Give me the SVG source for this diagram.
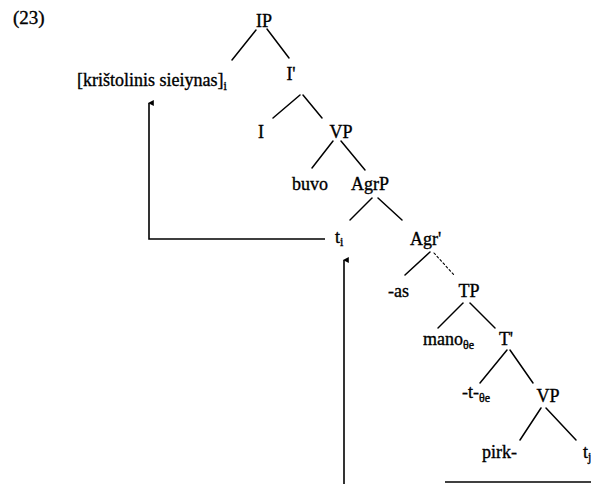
<svg xmlns="http://www.w3.org/2000/svg" width="591" height="484" viewBox="0 0 591 484">
  <style>
    text { font-family: "Liberation Serif", "Times New Roman", serif; font-size: 18px; fill: #000; stroke: #000; stroke-width: 0.35; }
    .num { font-size: 19px; }
    .c { text-anchor: middle; }
    .sub { font-size: 12px; }
    .edge { stroke: #000; stroke-width: 1.5; fill: none; stroke-linecap: round; }
    .dot { stroke-dasharray: 2 2.5; stroke-width: 1.1; }
    .move { stroke: #000; stroke-width: 1.6; fill: none; }
  </style>
  <defs>
    <marker id="head" viewBox="0 0 10 10" refX="5" refY="2" markerWidth="6" markerHeight="6" orient="auto-start-reverse" markerUnits="userSpaceOnUse">
      <path d="M0,10 L5,0 L10,10 Z" fill="#000"/>
    </marker>
  </defs>

  <text class="num" x="13" y="24">(23)</text>

  <!-- tree branches -->
  <g id="branches">
    <line class="edge" x1="256" y1="30" x2="232" y2="60"/>
    <line class="edge" x1="267" y1="29" x2="289" y2="58"/>
    <line class="edge" x1="300" y1="95" x2="273" y2="118"/>
    <line class="edge" x1="303" y1="95" x2="322" y2="118"/>
    <line class="edge" x1="333" y1="141" x2="312" y2="168"/>
    <line class="edge" x1="341" y1="141" x2="365" y2="170"/>
    <line class="edge" x1="372" y1="198" x2="350" y2="220"/>
    <line class="edge" x1="378" y1="198" x2="402" y2="220"/>
    <line class="edge" x1="430" y1="252" x2="405" y2="275"/>
    <line class="edge dot" x1="434" y1="253" x2="454" y2="275"/>
    <line class="edge" x1="463" y1="303" x2="438" y2="328"/>
    <line class="edge" x1="470" y1="303" x2="495" y2="328"/>
    <line class="edge" x1="507" y1="350" x2="480" y2="383"/>
    <line class="edge" x1="510" y1="350" x2="533" y2="383"/>
    <line class="edge" x1="541" y1="408" x2="520" y2="440"/>
    <line class="edge" x1="546" y1="408" x2="576" y2="440"/>
  </g>

  <!-- movement arrows -->
  <g id="connectors">
    <polyline class="move" points="325,239 149,239 149,103" marker-end="url(#head)"/>
    <line class="move" x1="344" y1="484" x2="344" y2="260" marker-end="url(#head)"/>
    <line class="move" x1="445" y1="482" x2="591" y2="482" stroke-width="2"/>
  </g>

  <g id="IP"><text class="c" x="264" y="27">IP</text></g>
  <g id="subject"><text x="77" y="86">[krištolinis sieiynas]<tspan class="sub" dy="4">i</tspan></text></g>
  <g id="Ibar"><text class="c" x="291" y="80">I'</text></g>
  <g id="I"><text class="c" x="261" y="138">I</text></g>
  <g id="VP1"><text class="c" x="341" y="138">VP</text></g>
  <g id="buvo"><text class="c" x="310" y="190">buvo</text></g>
  <g id="AgrP"><text class="c" x="370" y="190">AgrP</text></g>
  <g id="trace-i"><text x="335" y="243">t<tspan class="sub" dy="3">i</tspan></text></g>
  <g id="Agrbar"><text x="410" y="245">Agr'</text></g>
  <g id="as"><text x="388" y="297">-as</text></g>
  <g id="TP"><text class="c" x="469" y="297">TP</text></g>
  <g id="mano"><text x="423" y="345">mano<tspan class="sub" dy="4">θe</tspan></text></g>
  <g id="Tbar"><text class="c" x="506" y="345">T'</text></g>
  <g id="t-suffix"><text x="462" y="398">-t-<tspan class="sub" dy="4">θe</tspan></text></g>
  <g id="VP2"><text class="c" x="548" y="402">VP</text></g>
  <g id="pirk"><text x="482" y="458">pirk-</text></g>
  <g id="trace-j"><text x="583" y="458">t<tspan class="sub" dy="3">j</tspan></text></g>
</svg>
